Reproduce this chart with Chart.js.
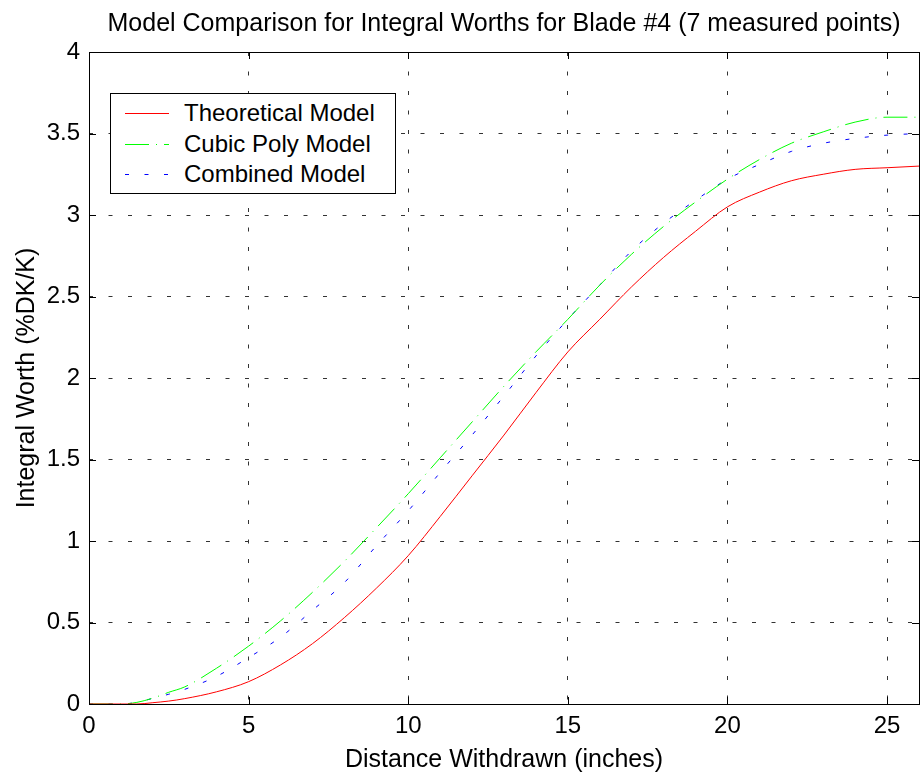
<!DOCTYPE html>
<html>
<head>
<meta charset="utf-8">
<script src="https://cdn.jsdelivr.net/npm/chart.js@4/dist/chart.umd.min.js"></script>
<style>
  html, body { margin: 0; padding: 0; background: #fff; }
  #wrap { position: relative; width: 922px; height: 777px; }
  #legend {
    position: absolute; left: 110px; top: 93px; width: 284px; height: 99px;
    border: 1px solid #000; background: #fff;
    font-family: "Liberation Sans", Arial, sans-serif; font-size: 24px; color: #000;
  }
  #legend .row { position: absolute; left: 0; height: 30px; line-height: 30px; white-space: nowrap; }
  #legend svg { position: absolute; left: 14px; top: 14px; }
  #legend span { position: absolute; left: 73px; top: 0; }
</style>
</head>
<body>
<div id="wrap">
  <canvas id="chart" width="922" height="777"></canvas>
  <div id="legend"></div>
</div>
<script>
'use strict';

var TITLE = 'Model Comparison for Integral Worths for Blade #4 (7 measured points)';
var X_LABEL = 'Distance Withdrawn (inches)';
var Y_LABEL = 'Integral Worth (%DK/K)';

var distance = [0, 1, 1.5, 2, 2.5, 3, 4, 5, 6, 7, 8, 9, 10, 11, 12, 13, 14, 15, 16, 17, 18, 19, 20, 21, 22, 23, 24, 25, 26];
var theoretical = [0, 0, 0, 0.008, 0.018, 0.033, 0.075, 0.137, 0.24, 0.37, 0.53, 0.71, 0.91, 1.15, 1.40, 1.65, 1.91, 2.16, 2.36, 2.56, 2.74, 2.90, 3.05, 3.14, 3.21, 3.25, 3.28, 3.29, 3.30];
var cubicPoly = [0, 0, 0.01, 0.036, 0.072, 0.105, 0.22, 0.355, 0.51, 0.685, 0.875, 1.08, 1.29, 1.51, 1.73, 1.95, 2.16, 2.36, 2.57, 2.76, 2.93, 3.08, 3.22, 3.34, 3.44, 3.51, 3.57, 3.60, 3.60];
var combined = [0, 0, 0.01, 0.035, 0.06, 0.09, 0.17, 0.285, 0.41, 0.575, 0.745, 0.97, 1.185, 1.42, 1.65, 1.89, 2.135, 2.36, 2.57, 2.78, 2.95, 3.09, 3.22, 3.31, 3.39, 3.44, 3.47, 3.49, 3.50];

var seriesNames = ['Theoretical Model', 'Cubic Poly Model', 'Combined Model'];
var xTicks = [0, 5, 10, 15, 20, 25];
var yTicks = [0, 0.5, 1, 1.5, 2, 2.5, 3, 3.5, 4];

var FONT = '"Liberation Sans", Arial, sans-serif';
var colors = ['rgb(255,0,0)', 'rgb(0,255,0)', 'rgb(0,0,255)'];
var dashes = [[], [24, 7, 1, 7], [4, 15.5]];

function points(ys) {
  return distance.map(function (x, i) { return { x: x, y: ys[i] }; });
}

var frame = {
  id: 'matlabFrame',
  afterDraw: function (chart) {
    var ctx = chart.ctx;
    var a = chart.chartArea;
    var xs = chart.scales.x, ys = chart.scales.y;
    var tick = 7;
    ctx.save();
    ctx.strokeStyle = '#000';
    ctx.lineWidth = 1;
    ctx.beginPath();
    xTicks.forEach(function (v) {
      var px = Math.round(xs.getPixelForValue(v)) + 0.5;
      ctx.moveTo(px, a.bottom); ctx.lineTo(px, a.bottom - tick);
      ctx.moveTo(px, a.top); ctx.lineTo(px, a.top + tick);
    });
    yTicks.forEach(function (v) {
      var py = Math.round(ys.getPixelForValue(v)) + 0.5;
      ctx.moveTo(a.left, py); ctx.lineTo(a.left + tick, py);
      ctx.moveTo(a.right, py); ctx.lineTo(a.right - tick, py);
    });
    ctx.stroke();
    ctx.strokeRect(Math.round(a.left) + 0.5, Math.round(a.top) + 0.5,
      Math.round(a.right - a.left), Math.round(a.bottom - a.top));
    ctx.fillStyle = '#000';
    ctx.font = '25px ' + FONT;
    ctx.textAlign = 'center';
    ctx.textBaseline = 'middle';
    ctx.fillText(TITLE, (a.left + a.right) / 2, 24);
    ctx.restore();
  }
};

new Chart(document.getElementById('chart').getContext('2d'), {
  type: 'line',
  data: {
    datasets: [theoretical, cubicPoly, combined].map(function (ys, i) {
      return {
        label: seriesNames[i],
        data: points(ys),
        borderColor: colors[i],
        borderWidth: 1,
        borderDash: dashes[i],
        pointRadius: 0,
        fill: false,
        cubicInterpolationMode: 'monotone'
      };
    })
  },
  options: {
    responsive: false,
    animation: false,
    layout: { padding: { top: 52, right: 3, left: 0, bottom: 0 } },
    plugins: { legend: { display: false }, title: { display: false }, tooltip: { enabled: false } },
    scales: {
      x: {
        type: 'linear', min: 0, max: 26,
        afterFit: function (s) { s.height = 73; },
        afterBuildTicks: function (s) { s.ticks = xTicks.map(function (v) { return { value: v }; }); },
        grid: { color: '#333', lineWidth: 1, drawTicks: false },
        border: { display: false, dash: [4, 15.5] },
        ticks: {
          padding: 8, color: '#000', font: { family: FONT, size: 24 }, maxRotation: 0,
          callback: function (v) { return String(v); }
        },
        title: { display: true, text: X_LABEL, color: '#000', font: { family: FONT, size: 25 }, padding: { top: 0, bottom: 2 } }
      },
      y: {
        type: 'linear', min: 0, max: 4,
        afterFit: function (s) { s.width = 89; },
        afterBuildTicks: function (s) { s.ticks = yTicks.map(function (v) { return { value: v }; }); },
        grid: { color: '#333', lineWidth: 1, drawTicks: false },
        border: { display: false, dash: [4, 15.5] },
        ticks: {
          padding: 9, color: '#000', font: { family: FONT, size: 24 },
          callback: function (v) { return String(v); }
        },
        title: { display: true, text: Y_LABEL, color: '#000', font: { family: FONT, size: 25 }, padding: { top: 12, bottom: 0 } }
      }
    }
  },
  plugins: [frame]
});

var legend = document.getElementById('legend');
seriesNames.forEach(function (name, i) {
  var row = document.createElement('div');
  row.className = 'row';
  row.style.top = (4 + i * 30.5) + 'px';
  row.style.width = '100%';
  var dash = dashes[i].length ? ' stroke-dasharray="' + dashes[i].join(' ') + '"' : '';
  row.innerHTML = '<svg width="44" height="3"><line x1="0" y1="1.5" x2="44" y2="1.5" stroke="' + colors[i] + '" stroke-width="1"' + dash + '/></svg>';
  var label = document.createElement('span');
  label.textContent = name;
  row.appendChild(label);
  legend.appendChild(row);
});
</script>
</body>
</html>
